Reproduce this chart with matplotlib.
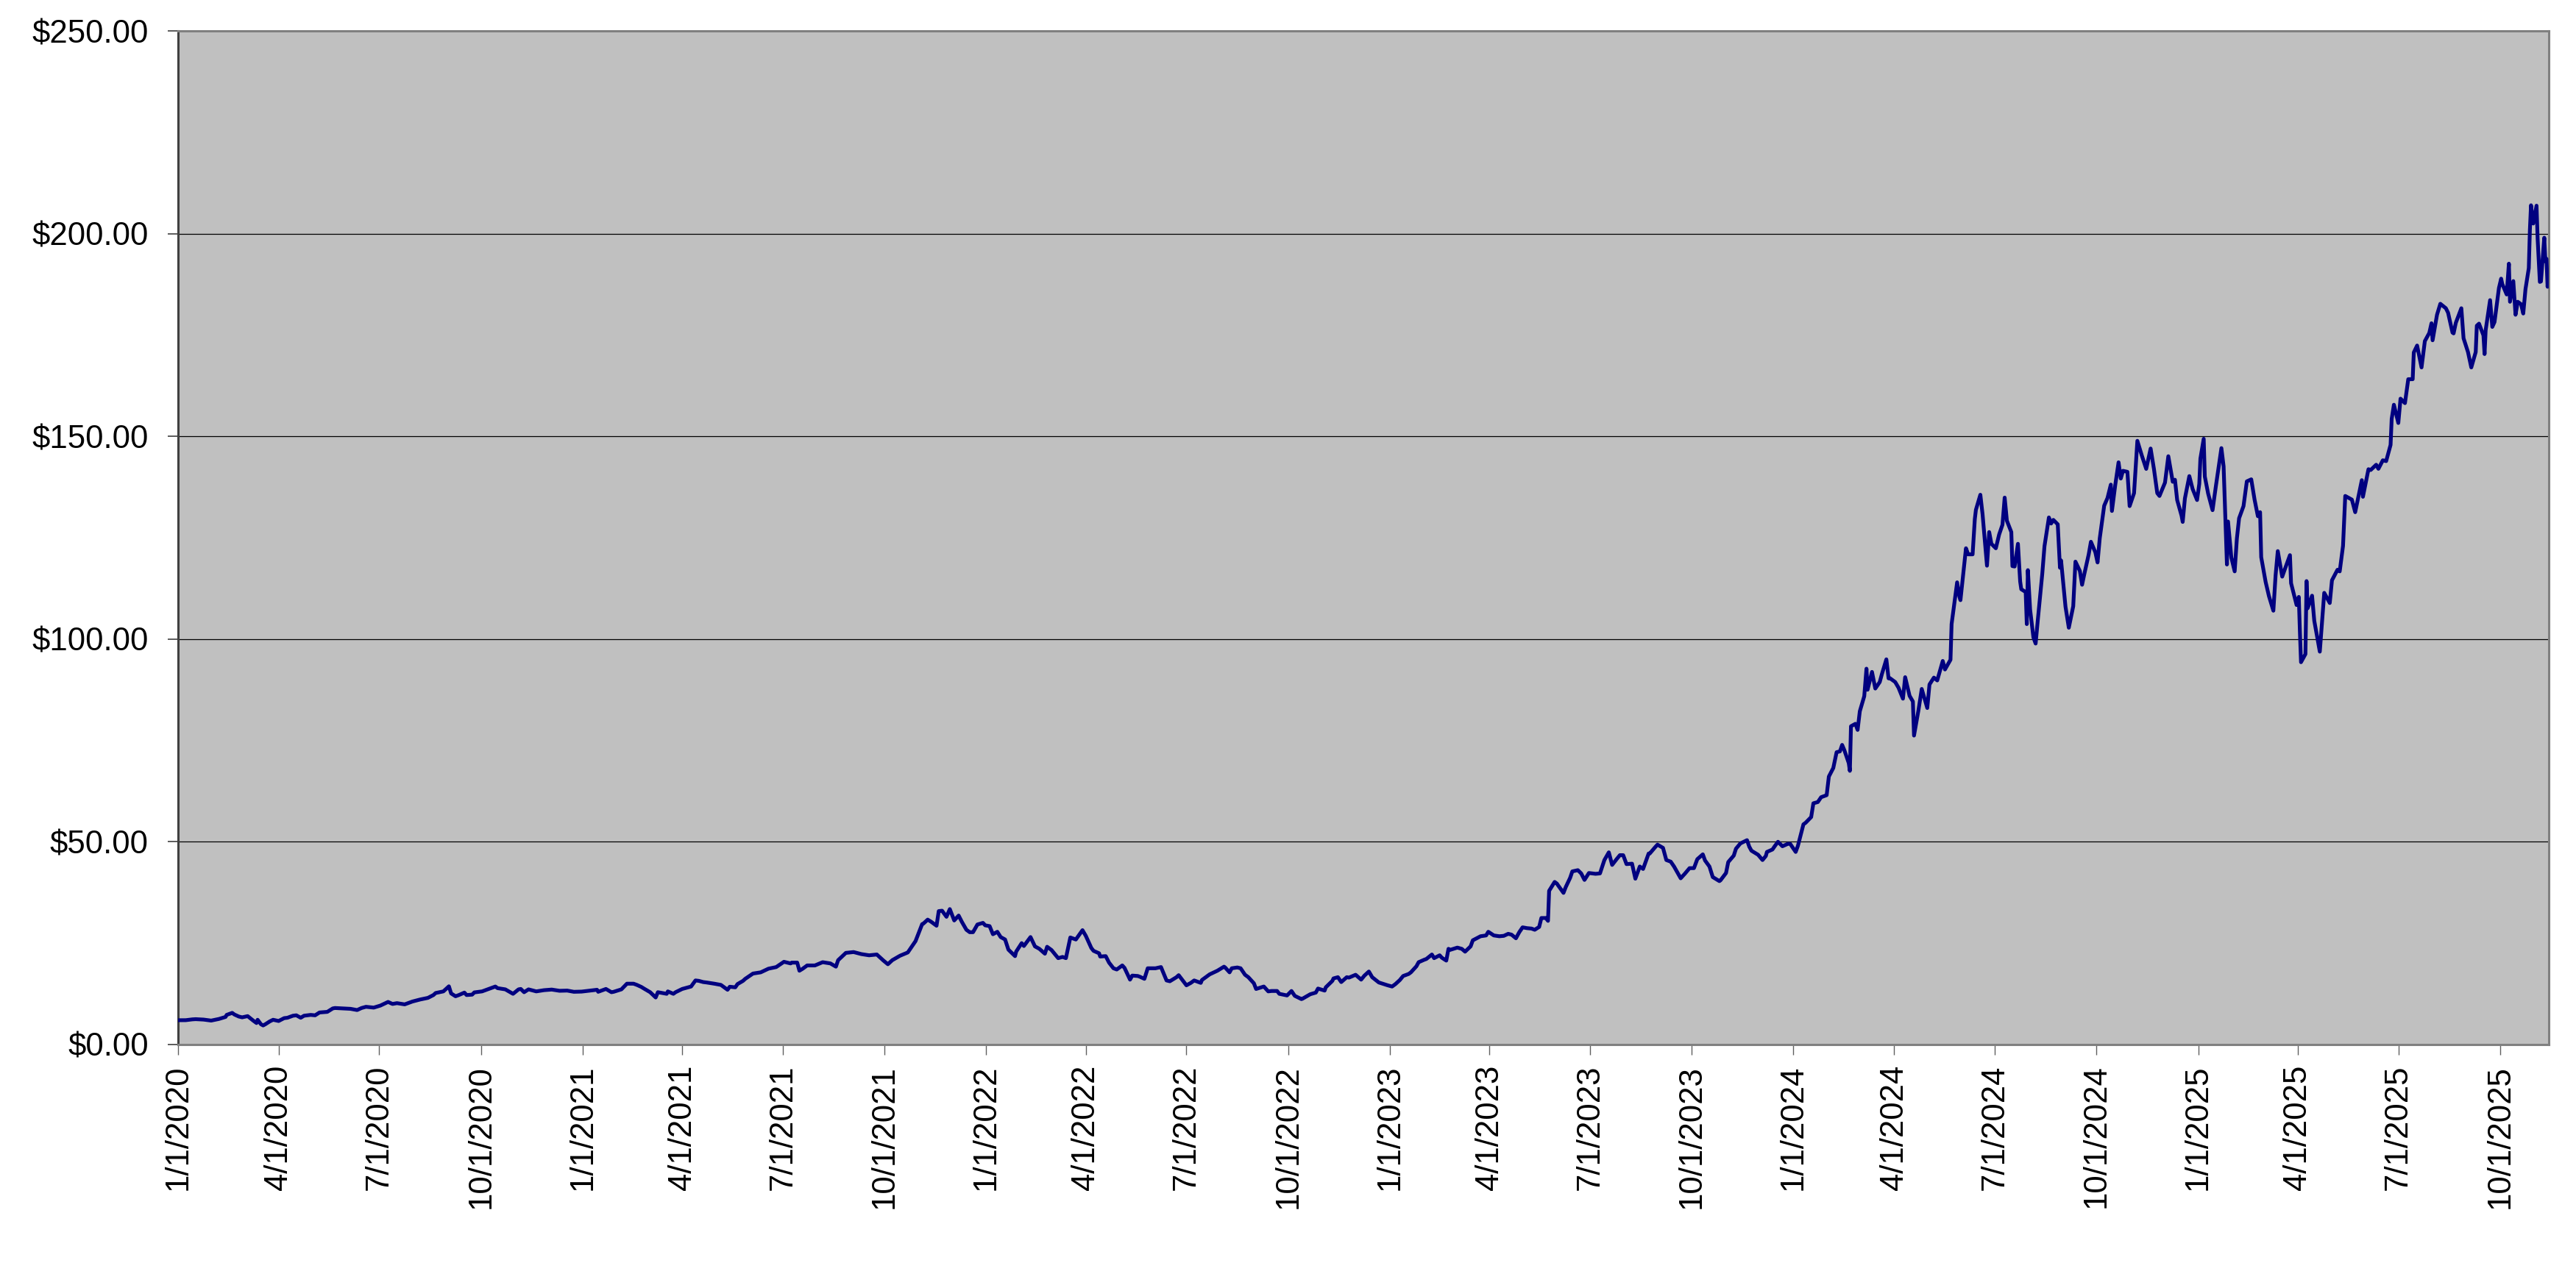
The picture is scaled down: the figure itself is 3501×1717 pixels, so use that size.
import numpy as np
import pandas as pd
import matplotlib
matplotlib.use('Agg')
from matplotlib import pyplot as plt

# closing price (month-day per year)
d20 = ["01-02","01-08","01-14","01-17","01-24","01-28","01-31","02-07","02-13","02-14",
       "02-19","02-21","02-25","02-28","03-04","03-09","03-12","03-13","03-16","03-18",
       "03-20","03-24","03-27","04-01","04-06","04-09","04-14","04-17","04-21","04-24",
       "04-30","05-04","05-08","05-15","05-20","05-22","05-29","06-05","06-11","06-15",
       "06-19","06-26","07-02","07-09","07-13","07-17","07-24","07-31","08-07","08-14",
       "08-19","08-21","08-28","09-02","09-04","09-08","09-11","09-16","09-18","09-23",
       "09-25","10-02","10-09","10-14","10-16","10-23","10-30","11-04","11-06","11-09",
       "11-13","11-20","11-27","12-04","12-11","12-18","12-24","12-31"]
p20 = [5.99,6.0,6.2,6.25,6.15,6.0,5.9,6.3,6.8,7.3,
       7.8,7.4,6.9,6.7,7.0,5.9,5.3,6.1,5.0,4.7,
       5.0,5.7,6.1,5.8,6.5,6.6,7.1,7.2,6.6,7.1,
       7.3,7.2,7.9,8.05,8.9,9.0,8.9,8.8,8.5,9.0,
       9.3,9.1,9.6,10.5,10.0,10.2,9.9,10.6,11.1,11.5,
       12.2,12.7,13.1,14.35,12.6,11.9,12.2,12.8,12.2,12.3,
       12.85,13.1,13.8,14.3,13.9,13.6,12.5,13.6,13.7,12.9,
       13.6,13.1,13.4,13.55,13.25,13.3,13.0,13.05]

d21 = ["01-08","01-14","01-15","01-22","01-27","01-29","02-05","02-10","02-16","02-19",
       "02-23","02-26","03-03","03-08","03-10","03-12","03-18","03-19","03-24","03-26",
       "04-01","04-09","04-13","04-16","04-20","04-23","04-30","05-06","05-12","05-14",
       "05-19","05-21","05-26","05-28","06-04","06-11","06-18","06-25","07-02","07-08",
       "07-09","07-14","07-16","07-19","07-23","07-30","08-06","08-13","08-18","08-20",
       "08-27","09-03","09-10","09-17","09-24","09-30","10-04","10-08","10-15","10-22",
       "10-29","11-04","11-05","11-09","11-12","11-17","11-19","11-22","11-26","11-29",
       "11-30","12-03","12-07","12-10","12-14","12-17","12-20","12-24","12-29","12-31"]
p21 = [13.3,13.5,13.0,13.7,12.9,13.0,13.6,15.0,15.0,14.7,
       14.2,13.7,12.9,11.6,12.9,12.8,12.5,13.1,12.5,12.9,
       13.7,14.3,15.8,15.7,15.4,15.3,15.0,14.7,13.5,14.25,
       14.1,14.9,15.7,16.2,17.5,17.8,18.7,19.1,20.4,20.0,
       20.2,20.2,18.2,18.7,19.5,19.5,20.3,20.0,19.2,20.8,
       22.6,22.8,22.3,22.0,22.2,20.7,19.8,20.8,21.9,22.7,
       25.5,29.7,29.8,30.8,30.3,29.3,32.9,33.0,31.5,33.4,
       32.7,30.6,31.8,30.2,28.3,27.7,27.7,29.6,30.0,29.4]

d22 = ["01-04","01-07","01-11","01-14","01-18","01-21","01-27","01-28","02-02","02-04",
       "02-10","02-14","02-18","02-23","02-25","03-01","03-07","03-11","03-14","03-18",
       "03-23","03-29","04-01","04-06","04-08","04-13","04-14","04-19","04-22","04-26",
       "04-29","05-04","05-06","05-11","05-13","05-18","05-20","05-24","05-27","06-03",
       "06-08","06-13","06-16","06-22","06-24","07-01","07-05","07-08","07-14","07-15",
       "07-22","07-29","08-04","08-05","08-09","08-11","08-16","08-19","08-23","08-26",
       "08-31","09-02","09-09","09-13","09-16","09-21","09-23","09-30","10-04","10-07",
       "10-13","10-14","10-21","10-26","10-28","11-03","11-04","11-10","11-11","11-15",
       "11-18","11-23","11-25","12-01","12-06","12-09","12-13","12-16","12-22","12-30"]
p22 = [29.2,27.2,27.8,26.5,25.9,23.4,21.8,22.9,25.0,24.3,
       26.5,24.2,23.6,22.4,24.1,23.3,21.3,21.6,21.3,26.4,
       25.9,28.2,26.8,23.8,23.1,22.5,21.7,21.8,20.2,18.8,
       18.5,19.5,18.9,16.0,17.0,16.9,16.7,16.2,18.8,18.8,
       19.1,15.8,15.6,16.6,17.1,14.6,15.2,15.8,15.2,15.9,
       17.3,18.2,19.2,19.0,17.8,18.8,19.0,18.8,17.2,16.6,
       15.1,13.7,14.3,13.1,13.2,13.2,12.5,12.1,13.2,12.0,
       11.2,11.3,12.4,12.8,13.8,13.3,14.1,15.7,16.3,16.6,
       15.4,16.6,16.5,17.2,16.0,17.0,18.0,16.6,15.3,14.6]

d23 = ["01-03","01-06","01-10","01-13","01-18","01-20","01-25","01-27","02-01","02-03",
       "02-08","02-10","02-15","02-17","02-21","02-23","02-24","03-03","03-07","03-10",
       "03-15","03-17","03-22","03-24","03-29","03-31","04-05","04-10","04-14","04-18",
       "04-21","04-25","04-28","05-01","05-05","05-09","05-12","05-16","05-18","05-22",
       "05-24","05-25","05-30","06-01","06-02","06-07","06-09","06-13","06-15","06-20",
       "06-23","06-26","06-30","07-06","07-10","07-14","07-18","07-21","07-25","07-28",
       "07-31","08-03","08-08","08-11","08-15","08-18","08-23","08-24","08-29","08-31",
       "09-05","09-08","09-12","09-15","09-21","09-25","09-29","10-03","10-06","10-11",
       "10-13","10-17","10-20","10-26","10-27","11-01","11-03","11-08","11-10","11-14",
       "11-20","11-22","11-24","11-30","12-04","12-07","12-08","12-13","12-15","12-18",
       "12-22","12-27","12-29"]
p23 = [14.3,14.9,15.9,16.9,17.4,17.8,19.3,20.3,20.9,21.1,
       22.2,21.3,22.0,21.4,20.7,23.6,23.3,23.9,23.6,22.9,
       24.2,25.7,26.4,26.7,26.9,27.8,26.9,26.7,26.8,27.3,
       27.1,26.2,27.7,28.9,28.7,28.6,28.3,29.0,31.2,31.2,
       30.5,37.9,40.1,39.7,39.3,37.4,38.8,41.1,42.7,43.0,
       42.2,40.6,42.3,42.1,42.2,45.5,47.4,44.3,45.7,46.7,
       46.7,44.5,44.6,40.9,43.9,43.3,47.1,47.1,48.7,49.3,
       48.5,45.5,45.1,43.9,41.0,42.2,43.5,43.5,45.7,46.9,
       45.4,43.9,41.3,40.3,40.5,42.3,45.0,46.6,48.3,49.6,
       50.4,48.8,47.8,46.8,45.5,46.5,47.5,48.1,48.9,50.0,
       48.9,49.5,49.5]

d24 = ["01-03","01-05","01-08","01-10","01-12","01-17","01-19","01-23","01-26","01-31",
       "02-02","02-06","02-09","02-12","02-14","02-16","02-20","02-21","02-22","02-26",
       "02-28","03-01","03-05","03-07","03-08","03-12","03-15","03-19","03-21","03-25",
       "03-27","03-28","04-02","04-05","04-09","04-11","04-15","04-18","04-19","04-23",
       "04-26","05-01","05-03","05-07","05-10","05-15","05-17","05-22","05-23","05-28",
       "05-30","05-31","06-05","06-07","06-11","06-13","06-14","06-18","06-20","06-24",
       "06-26","06-28","07-02","07-05","07-08","07-10","07-12","07-16","07-17","07-19",
       "07-22","07-24","07-25","07-29","07-30","07-31","08-02","08-05","08-07","08-09",
       "08-13","08-15","08-19","08-21","08-23","08-27","08-29","08-30","09-03","09-06",
       "09-10","09-12","09-16","09-18","09-20","09-24","09-26","09-30","10-02","10-04",
       "10-08","10-11","10-14","10-15","10-18","10-21","10-23","10-25","10-29","10-31",
       "11-04","11-07","11-11","11-15","11-19","11-22","11-25","11-27","12-02","12-05",
       "12-09","12-11","12-13","12-17","12-18","12-20","12-24","12-27","12-31"]
p24 = [47.5,49.0,52.2,54.3,54.7,56.1,59.5,59.8,61.0,61.5,
       66.1,68.2,72.1,72.3,73.9,72.6,69.4,67.5,78.5,79.1,
       77.6,82.2,85.9,92.7,87.5,91.9,87.8,89.4,91.4,95.0,
       90.3,90.4,89.4,88.0,85.3,90.6,86.0,84.6,76.2,82.4,
       87.7,83.0,88.8,90.5,89.8,94.6,92.5,94.9,103.7,114.0,
       110.5,109.6,122.4,120.9,120.9,129.6,131.9,135.6,130.8,118.1,
       126.4,123.5,122.4,125.8,128.2,134.9,129.2,126.4,118.0,117.9,
       123.5,114.2,112.3,111.6,103.7,117.0,107.3,100.4,98.9,104.8,
       116.1,122.9,130.0,128.5,129.4,128.3,117.6,119.4,108.0,102.8,
       108.1,119.1,116.8,113.4,116.0,120.9,124.0,121.4,118.9,124.9,
       132.9,134.8,138.1,131.6,138.0,143.6,139.6,141.5,141.25,132.8,
       136.0,148.9,145.3,141.98,147.0,141.95,136.0,135.3,138.6,145.1,
       138.8,139.3,134.3,130.4,128.9,134.7,140.2,137.0,134.3]

d25 = ["01-02","01-03","01-06","01-07","01-10","01-14","01-17","01-22","01-24","01-27",
       "01-28","01-31","02-03","02-05","02-07","02-11","02-14","02-18","02-21","02-24",
       "02-26","02-27","03-03","03-06","03-10","03-12","03-14","03-18","03-21","03-25",
       "03-26","03-31","04-02","04-03","04-04","04-08","04-09","04-10","04-14","04-16",
       "04-21","04-25","04-30","05-02","05-07","05-09","05-12","05-14","05-20","05-23",
       "05-29","05-30","06-04","06-06","06-11","06-13","06-17","06-20","06-24","06-25",
       "06-27","07-01","07-03","07-07","07-10","07-14","07-15","07-18","07-22","07-25",
       "07-29","07-31","08-01","08-05","08-08","08-13","08-15","08-19","08-20","08-22",
       "08-27","08-29","09-02","09-05","09-09","09-10","09-12","09-16","09-17","09-18",
       "09-22","09-24","09-26","09-30","10-02","10-03","10-07","10-09","10-10","10-13",
       "10-15","10-17","10-20","10-22","10-24","10-27","10-28","10-29","10-31","11-03",
       "11-04","11-06","11-07","11-10","11-11","11-12","11-13","11-14"]
p25 = [138.3,144.5,149.4,140.1,135.9,131.8,137.7,147.1,142.6,118.4,
       129.0,120.1,116.7,124.8,129.8,132.8,138.9,139.4,134.4,130.3,
       131.3,120.2,114.1,110.6,107.0,115.7,121.7,115.4,117.7,120.7,
       113.8,108.4,110.4,101.8,94.3,96.3,114.3,107.6,110.7,104.5,
       96.9,111.4,108.9,114.5,117.1,116.7,123.0,135.3,134.4,131.3,
       139.2,135.1,141.9,141.7,143.0,142.0,144.1,143.9,147.9,154.3,
       157.8,153.3,159.3,158.2,164.1,164.1,170.7,172.4,167.0,173.5,
       175.5,177.9,173.7,180.0,182.7,181.6,180.5,175.6,175.4,178.0,
       181.6,174.2,170.8,167.0,170.8,177.3,177.8,174.9,170.3,176.2,
       183.6,177.0,178.2,186.6,188.9,187.6,185.0,192.6,183.2,188.3,
       180.0,183.2,182.6,180.3,186.3,191.5,201.0,207.0,202.5,206.9,
       198.7,188.1,188.2,199.0,193.2,193.8,186.9,190.2]

yticks = [0, 50, 100, 150, 200, 250]


def build():
    dates, prices = [], []
    for yr, d, p in [(2020, d20, p20), (2021, d21, p21), (2022, d22, p22),
                     (2023, d23, p23), (2024, d24, p24), (2025, d25, p25)]:
        dates += ['%d-%s' % (yr, s) for s in d]
        prices += p
    return pd.to_datetime(dates), np.array(prices)


def main():
    plt.rcParams['font.family'] = ['Liberation Sans', 'DejaVu Sans']
    dates, prices = build()

    fig = plt.figure(figsize=(35.01, 17.17), dpi=100)
    fig.subplots_adjust(left=0.0691, right=0.9894, top=0.9755, bottom=0.173)
    ax = fig.add_subplot(111)
    ax.set_facecolor('#C0C0C0')

    ax.plot(dates, prices, color='#000080', lw=3.7, zorder=3)

    ax.set_ylim(0, 250)
    ax.set_yticks(yticks)
    ax.set_yticklabels(['$%.2f' % v for v in yticks])
    ax.yaxis.grid(True, color='black', lw=0.9, zorder=1)
    ax.set_axisbelow(True)

    xt = pd.date_range('2020-01-01', '2025-10-01', freq='QS')
    ax.set_xticks(xt)
    ax.set_xticklabels(['%d/%d/%d' % (t.month, t.day, t.year) for t in xt], rotation=90)
    ax.set_xlim(pd.Timestamp('2020-01-01'), pd.Timestamp('2025-11-14'))

    ax.tick_params(axis='y', labelsize=31.5, length=10, width=1.2, pad=19, color='#404040')
    ax.tick_params(axis='x', labelsize=31.5, length=10, width=1.0, pad=10, color='#606060')

    for s in ['top', 'right', 'bottom']:
        ax.spines[s].set_color('#808080')
        ax.spines[s].set_linewidth(2.2)
    ax.spines['left'].set_color('#404040')
    ax.spines['left'].set_linewidth(2.2)

    fig.savefig('out.png', dpi=100, facecolor='white')


if __name__ == '__main__':
    main()
